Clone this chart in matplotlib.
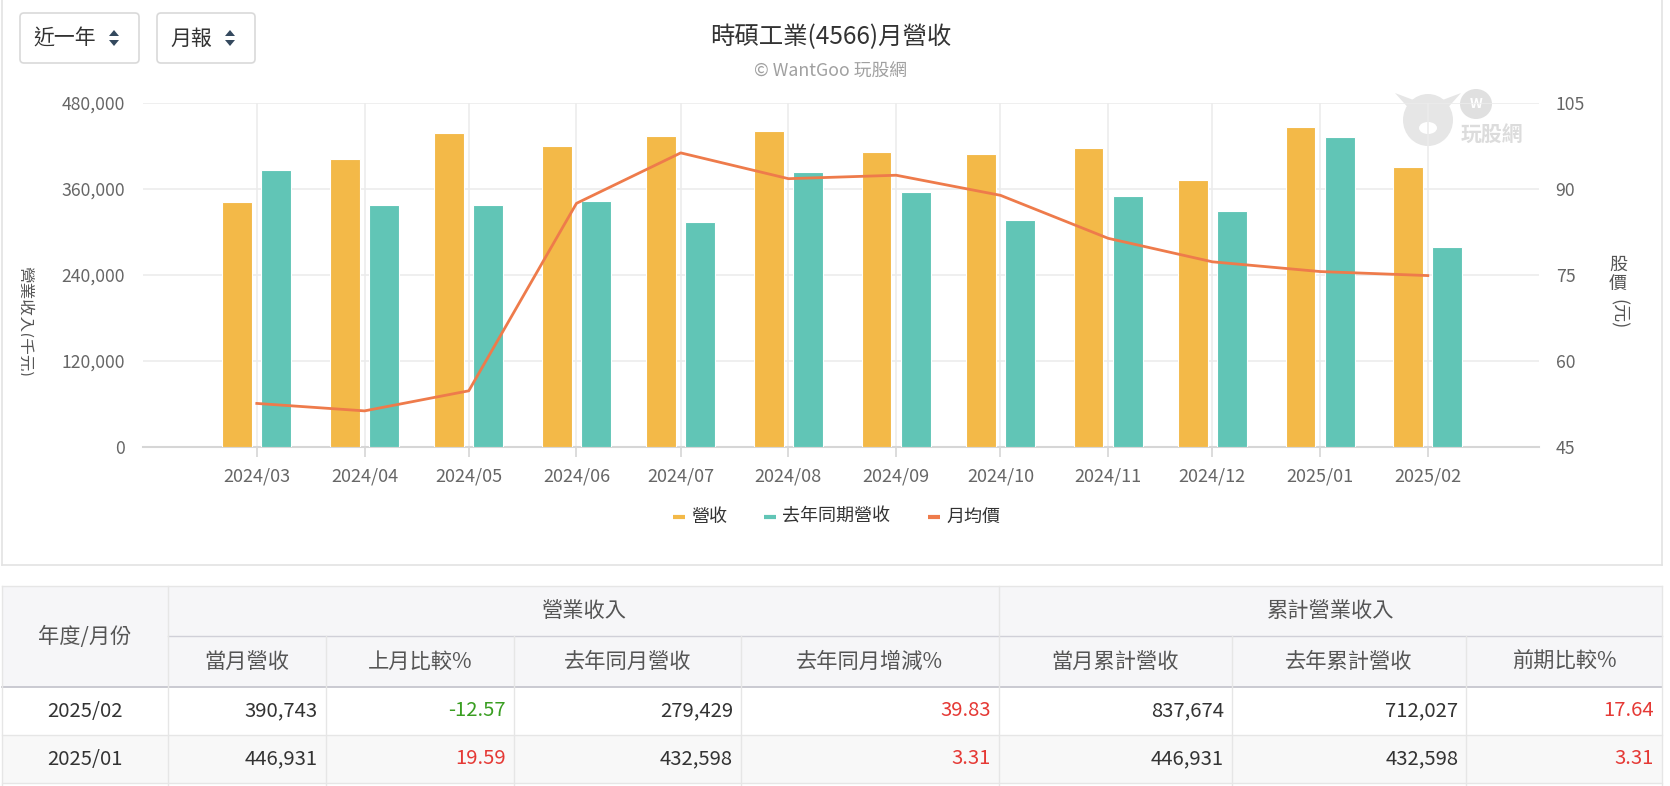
import numpy as np
import pandas as pd
import matplotlib
matplotlib.use('Agg')
import matplotlib.pyplot as plt
import matplotlib.dates as mdates
from matplotlib.patches import Rectangle, FancyBboxPatch, Polygon, Ellipse
from matplotlib.ticker import FuncFormatter, FixedLocator

plt.rcParams['font.family'] = ['Noto Sans CJK TC', 'DejaVu Sans']

# ---------------- data ----------------
months = ['2024/03', '2024/04', '2024/05', '2024/06', '2024/07', '2024/08',
          '2024/09', '2024/10', '2024/11', '2024/12', '2025/01', '2025/02']
revenue = [342000, 402500, 438800, 419500, 434500, 440500,
           411000, 408800, 417600, 373200, 446931, 390743]
revenue_last_year = [386200, 337700, 337700, 343700, 314300, 384000,
                     356400, 316700, 350400, 329200, 432598, 279429]
avg_price = [52.6, 51.3, 54.8, 87.5, 96.3, 91.8,
             92.4, 88.9, 81.4, 77.3, 75.6, 74.9]

title = '時碩工業(4566)月營收'
subtitle = '© WantGoo 玩股網'
legend_labels = ['營收', '去年同期營收', '月均價']
left_ticks = [0, 120000, 240000, 360000, 480000]
right_ticks = [45, 60, 75, 90, 105]

tbl_group_labels = ['營業收入', '累計營業收入']
tbl_first_col = '年度/月份'
tbl_columns = ['當月營收', '上月比較%', '去年同月營收', '去年同月增減%',
               '當月累計營收', '去年累計營收', '前期比較%']
tbl_rows = ['2025/02', '2025/01']
tbl_values = [
    ['390,743', '-12.57', '279,429', '39.83', '837,674', '712,027', '17.64'],
    ['446,931', '19.59', '432,598', '3.31', '446,931', '432,598', '3.31'],
]

# ---------------- style ----------------
C_REV = '#F3B948'
C_LY = '#61C5B6'
C_PRICE = '#EE7B4B'
C_GRID = '#ECECEC'
C_TICK = '#666666'

W, H = 1670, 786
fig = plt.figure(figsize=(W / 100, H / 100), dpi=100)

bg = fig.add_axes([0, 0, 1, 1])
bg.set_xlim(0, W)
bg.set_ylim(H, 0)
bg.axis('off')

# chart container border
bg.plot([2, 2], [0, 565], color='#E3E3E3', lw=1.2)
bg.plot([1662, 1662], [0, 565], color='#E3E3E3', lw=1.2)
bg.plot([2, 1662], [565, 565], color='#E3E3E3', lw=1.2)

# buttons
for (x0, x1, label, ax_arrow) in [(20, 139, '近一年', 114), (157, 255, '月報', 230)]:
    bg.add_patch(FancyBboxPatch((x0, 13), x1 - x0, 50,
                                boxstyle='round,pad=0,rounding_size=4',
                                fc='white', ec='#D9D9D9', lw=1.2))
    bg.text(x0 + 13, 38.5, label, fontsize=15, color='#333333',
            ha='left', va='center')
    bg.add_patch(Polygon([[ax_arrow - 5, 36], [ax_arrow + 5, 36], [ax_arrow, 30]],
                         closed=True, fc='#34495E', ec='none'))
    bg.add_patch(Polygon([[ax_arrow - 5, 40], [ax_arrow + 5, 40], [ax_arrow, 46]],
                         closed=True, fc='#34495E', ec='none'))

# title
bg.text(831, 37, title, fontsize=17.6, color='#333333', ha='center', va='center')
bg.text(831, 72, subtitle, fontsize=12.8, color='#A0A0A0', ha='center', va='center')

# watermark
wm = '#E6E6E6'
bg.add_patch(Ellipse((1428, 120), 50, 52, fc=wm, ec='none'))
bg.add_patch(Polygon([[1395, 93], [1412, 112], [1424, 104]], closed=True, fc=wm, ec='none'))
bg.add_patch(Polygon([[1461, 93], [1444, 112], [1432, 104]], closed=True, fc=wm, ec='none'))
bg.add_patch(Ellipse((1428, 128), 18, 12, fc='white', ec='none'))
bg.add_patch(Ellipse((1476, 104), 32, 30, fc='#E0E0E0', ec='none'))
bg.text(1476, 104, 'W', fontsize=10, color='white', fontweight='bold', ha='center', va='center')
bg.text(1492, 135, '玩股網', fontsize=15, color='#DCDCDC', fontweight='bold',
        ha='center', va='center')

# ---------------- main chart ----------------
dates = pd.to_datetime([m + '/01' for m in months], format='%Y/%m/%d')
xd = mdates.date2num(dates.to_pydatetime())

ax = fig.add_axes([143 / W, 1 - 447 / H, (1539 - 143) / W, (447 - 103) / H])
ax.patch.set_visible(False)
bar_w = 8.6
off = 5.65
ax.bar(xd - off, revenue, width=bar_w, color=C_REV, edgecolor='white', linewidth=0.8, zorder=3)
ax.bar(xd + off, revenue_last_year, width=bar_w, color=C_LY, edgecolor='white', linewidth=0.8, zorder=3)
ax.set_xlim(xd[0] - 32.75, xd[-1] + 32.0)
ax.set_ylim(0, 480000)
ax.yaxis.set_major_locator(FixedLocator(left_ticks))
ax.yaxis.set_major_formatter(FuncFormatter(lambda v, p: f'{int(v):,}'))
ax.set_xticks(xd)
ax.set_xticklabels(months)
ax.grid(True, color=C_GRID, lw=1.2, zorder=0)
ax.set_axisbelow(True)
for s in ['top', 'left', 'right']:
    ax.spines[s].set_visible(False)
ax.spines['bottom'].set_color('#D6D6D6')
ax.spines['bottom'].set_linewidth(1.5)
ax.tick_params(axis='y', length=0, pad=13, labelsize=12.7, labelcolor=C_TICK)
ax.tick_params(axis='x', length=7, width=1.2, color='#D6D6D6', pad=8,
               labelsize=13, labelcolor=C_TICK)

ax2 = ax.twinx()
ax2.plot(xd, avg_price, color=C_PRICE, lw=2, zorder=4)
ax2.set_ylim(45, 105)
ax2.yaxis.set_major_locator(FixedLocator(right_ticks))
for s in ['top', 'left', 'right', 'bottom']:
    ax2.spines[s].set_visible(False)
ax2.tick_params(axis='y', length=0, pad=12, labelsize=12.7, labelcolor=C_TICK)

# right axis title (stacked)
bg.text(1618, 265, '股', fontsize=13, color='#555555', ha='center', va='center')
bg.text(1618, 284, '價', fontsize=13, color='#555555', ha='center', va='center')
bg.text(1618, 314, '(元)', fontsize=13, color='#555555', ha='center', va='center',
        rotation=270)

# left axis title (clipped as in the reference)
clip_ax = fig.add_axes([21 / W, 1 - 400 / H, 30 / W, 160 / H])
clip_ax.set_xlim(0, 30)
clip_ax.set_ylim(160, 0)
clip_ax.axis('off')
clip_ax.text(3, 82, '營業收入(千元)', fontsize=12, color='#555555', ha='center',
             va='center', rotation=270, clip_on=True)

# legend
leg_items = [(673, legend_labels[0], C_REV), (764, legend_labels[1], C_LY),
             (928, legend_labels[2], C_PRICE)]
for lx, lab, col in leg_items:
    bg.plot([lx, lx + 12], [517, 517], color=col, lw=3, solid_capstyle='butt')
    bg.text(lx + 18, 517, lab, fontsize=13, color='#333333', ha='left', va='center')

# ---------------- table ----------------
col_edges = [2, 167.6, 325.6, 514, 741, 998.7, 1231.7, 1466.3, 1661.8]
y_top, y_mid, y_hdr, y_r1, y_r2 = 586, 636, 687, 735, 783
hdr_bg = '#F6F6F8'
bg.add_patch(Rectangle((col_edges[0], y_top), col_edges[-1] - col_edges[0], y_hdr - y_top,
                       fc=hdr_bg, ec='none'))
bg.add_patch(Rectangle((col_edges[0], y_r1), col_edges[-1] - col_edges[0], y_r2 - y_r1,
                       fc='#F8F8F8', ec='none'))
line_c = '#E6E6E6'
bg.plot([col_edges[0], col_edges[-1]], [y_top, y_top], color=line_c, lw=1)
bg.plot([col_edges[1], col_edges[-1]], [y_mid, y_mid], color='#D0D0D8', lw=1)
bg.plot([col_edges[0], col_edges[-1]], [y_hdr, y_hdr], color='#C6C6CE', lw=1.3)
bg.plot([col_edges[0], col_edges[-1]], [y_r1, y_r1], color=line_c, lw=1)
bg.plot([col_edges[0], col_edges[-1]], [y_r2, y_r2], color=line_c, lw=1)
bg.plot([col_edges[0], col_edges[0]], [y_top, H], color=line_c, lw=1)
bg.plot([col_edges[-1], col_edges[-1]], [y_top, H], color=line_c, lw=1)
for i, xe in enumerate(col_edges[1:-1], start=1):
    top = y_top if xe in (col_edges[1], col_edges[5]) else y_mid
    bg.plot([xe, xe], [top, H], color=line_c, lw=1)

hdr_c = '#555555'
hfs = 15.3
dfs = 14.6
bg.text((col_edges[0] + col_edges[1]) / 2, (y_top + y_hdr) / 2, tbl_first_col,
        fontsize=hfs, color=hdr_c, ha='center', va='center')
bg.text((col_edges[1] + col_edges[5]) / 2, (y_top + y_mid) / 2, tbl_group_labels[0],
        fontsize=hfs, color=hdr_c, ha='center', va='center')
bg.text((col_edges[5] + col_edges[8]) / 2, (y_top + y_mid) / 2, tbl_group_labels[1],
        fontsize=hfs, color=hdr_c, ha='center', va='center')
for j, name in enumerate(tbl_columns):
    bg.text((col_edges[j + 1] + col_edges[j + 2]) / 2, (y_mid + y_hdr) / 2, name,
            fontsize=hfs, color=hdr_c, ha='center', va='center')

pct_cols = {1, 3, 6}
row_ys = [(y_hdr + y_r1) / 2, (y_r1 + y_r2) / 2]
for r, (rname, vals) in enumerate(zip(tbl_rows, tbl_values)):
    yy = row_ys[r]
    bg.text((col_edges[0] + col_edges[1]) / 2, yy, rname, fontsize=dfs,
            color='#333333', ha='center', va='center')
    for j, v in enumerate(vals):
        col = '#333333'
        if j in pct_cols:
            col = '#3A9E22' if v.startswith('-') else '#E53935'
        bg.text(col_edges[j + 2] - 8, yy, v, fontsize=dfs, color=col,
                ha='right', va='center')

fig.savefig('out.png', dpi=100)
